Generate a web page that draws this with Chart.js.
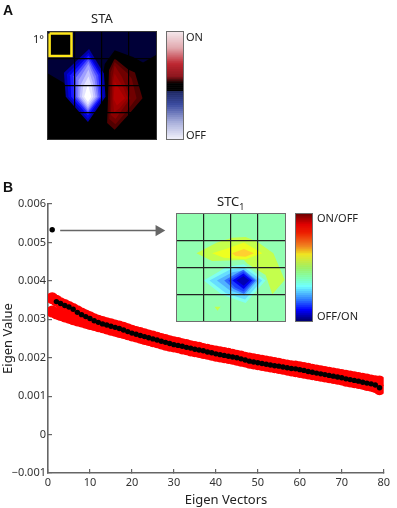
<!DOCTYPE html>
<html>
<head>
<meta charset="utf-8">
<title>STA and STC</title>
<script src="https://cdn.jsdelivr.net/npm/chart.js@4"></script>
<style>
  html, body { margin: 0; background: #fff; }
  #page { position: relative; width: 397px; height: 508px; overflow: hidden; }
  canvas { position: absolute; }
  .lbl { position: absolute; font: 13px "Noto Sans", sans-serif; color: #222; white-space: nowrap; line-height: 1; }
  .small { font-size: 11px; }
  .panel { font: bold 14px "Liberation Sans", sans-serif; color: #111; }
  .box { outline: 1.5px solid #6e6e6e; }
  .darkbox { outline: 1px solid #333; }
  sub { font-size: 9px; line-height: 0; }
</style>
</head>
<body>
<div id="page">
  <canvas id="mainChart" width="397" height="508" style="left:0;top:0"></canvas>
  <canvas id="staChart" class="darkbox" width="108" height="107" style="left:48px;top:32px"></canvas>
  <canvas id="staBar" class="box" width="16" height="107" style="left:167px;top:32px"></canvas>
  <canvas id="stcChart" class="box" width="108" height="107" style="left:177px;top:214px"></canvas>
  <canvas id="stcBar" class="box" width="16" height="107" style="left:296px;top:214px"></canvas>

  <div class="lbl panel" style="left:3px;top:2px">A</div>
  <div class="lbl panel" style="left:3px;top:179px">B</div>
  <div class="lbl" style="left:91px;top:12px">STA</div>
  <div class="lbl small" style="left:33px;top:33px">1&deg;</div>
  <div class="lbl small" style="left:186px;top:31px">ON</div>
  <div class="lbl small" style="left:186px;top:129px">OFF</div>
  <div class="lbl" style="left:217px;top:195px">STC<sub>1</sub></div>
  <div class="lbl small" style="left:317px;top:212px">ON/OFF</div>
  <div class="lbl small" style="left:317px;top:310px">OFF/ON</div>
</div>

<script>
// eigenvalue spectrum
const eigenIndex = Array.from({ length: 79 }, (_, i) => i + 1);

const eigenValues = [
  0.00533, 0.00346, 0.00341, 0.00336, 0.00332, 0.00326, 0.00318, 0.00312, 0.00307, 0.00302,
  0.00296, 0.00292, 0.00288, 0.00285, 0.00282, 0.00279, 0.00276, 0.00272, 0.00268, 0.00264,
  0.00261, 0.00258, 0.00255, 0.00252, 0.00249, 0.00246, 0.00243, 0.00240, 0.00237, 0.00234,
  0.00232, 0.00230, 0.00227, 0.00225, 0.00222, 0.00220, 0.00218, 0.00215, 0.00213, 0.00210,
  0.00208, 0.00206, 0.00204, 0.00202, 0.00200, 0.00197, 0.00194, 0.00191, 0.00189, 0.00187,
  0.00185, 0.00183, 0.00181, 0.00179, 0.00178, 0.00176, 0.00174, 0.00172, 0.00171, 0.00169,
  0.00167, 0.00164, 0.00162, 0.00160, 0.00158, 0.00156, 0.00154, 0.00152, 0.00150, 0.00148,
  0.00145, 0.00143, 0.00141, 0.00139, 0.00136, 0.00134, 0.00132, 0.00129, 0.00122
];

const shuffleUpper = [
  0.00355, 0.00348, 0.00342, 0.00337, 0.00332, 0.00327, 0.00321, 0.00315, 0.00310, 0.00305,
  0.00300, 0.00296, 0.00293, 0.00290, 0.00287, 0.00284, 0.00281, 0.00278, 0.00274, 0.00270,
  0.00267, 0.00264, 0.00261, 0.00258, 0.00255, 0.00252, 0.00249, 0.00246, 0.00243, 0.00240,
  0.00238, 0.00235, 0.00233, 0.00230, 0.00228, 0.00226, 0.00223, 0.00221, 0.00218, 0.00216,
  0.00214, 0.00212, 0.00210, 0.00208, 0.00205, 0.00203, 0.00200, 0.00198, 0.00196, 0.00194,
  0.00192, 0.00190, 0.00188, 0.00186, 0.00184, 0.00182, 0.00180, 0.00178, 0.00177, 0.00175,
  0.00173, 0.00171, 0.00169, 0.00167, 0.00165, 0.00163, 0.00161, 0.00159, 0.00157, 0.00155,
  0.00153, 0.00151, 0.00149, 0.00147, 0.00145, 0.00143, 0.00141, 0.00139, 0.00138
];

const shuffleLower = [
  0.00320, 0.00315, 0.00311, 0.00307, 0.00304, 0.00300, 0.00297, 0.00294, 0.00291, 0.00288,
  0.00285, 0.00282, 0.00279, 0.00276, 0.00273, 0.00270, 0.00267, 0.00264, 0.00261, 0.00258,
  0.00255, 0.00252, 0.00249, 0.00246, 0.00243, 0.00240, 0.00237, 0.00234, 0.00231, 0.00229,
  0.00227, 0.00224, 0.00222, 0.00219, 0.00217, 0.00215, 0.00212, 0.00210, 0.00208, 0.00205,
  0.00203, 0.00201, 0.00199, 0.00197, 0.00195, 0.00192, 0.00190, 0.00187, 0.00185, 0.00183,
  0.00181, 0.00179, 0.00177, 0.00175, 0.00173, 0.00171, 0.00169, 0.00167, 0.00165, 0.00163,
  0.00161, 0.00159, 0.00157, 0.00155, 0.00153, 0.00151, 0.00149, 0.00147, 0.00145, 0.00143,
  0.00140, 0.00138, 0.00136, 0.00134, 0.00132, 0.00129, 0.00127, 0.00124, 0.00118
];

const xTicks = [0, 10, 20, 30, 40, 50, 60, 70, 80];
const yTicks = [-0.001, 0, 0.001, 0.002, 0.003, 0.004, 0.005, 0.006];
const yTickLabels = ['\u22120.001', '0', '0.001', '0.002', '0.003', '0.004', '0.005', '0.006'];

const arrowX = [2.9, 26.4];
const arrowY = [0.00531, 0.00531];

// contour levels of the two receptive field maps, in grid cells from the top left
const gridLines = [1, 2, 3];

const staContours = [
  ['#000038', [[0,0],[4,0],[4,.86],[3.52,1.14],[3.15,.93],[2.47,.68],[2.1,1.2],[1.9,2.4],[1,2.4],[.58,1.9],[0,1.55]]],
  ['#0000a8', [[1.52,.64],[2.07,1.55],[2.13,2.42],[1.48,3.36],[.66,2.42],[.59,1.52]]],
  ['#0000e0', [[1.5,.78],[2,1.58],[2.06,2.42],[1.48,3.25],[.76,2.42],[.7,1.58]]],
  ['#1a1aff', [[1.5,.88],[1.94,1.6],[2,2.42],[1.48,3.12],[.86,2.42],[.82,1.62]]],
  ['#4a4aff', [[1.5,.98],[1.86,1.62],[1.94,2.42],[1.48,3.02],[.96,2.42],[.94,1.65]]],
  ['#7878ff', [[1.5,1.08],[1.78,1.65],[1.88,2.42],[1.48,2.95],[1.05,2.42],[1.04,1.7]]],
  ['#a0a0ff', [[1.5,1.2],[1.72,1.75],[1.82,2.42],[1.48,2.88],[1.12,2.42],[1.13,1.8]]],
  ['#c4c4ff', [[1.5,1.4],[1.66,1.9],[1.76,2.42],[1.48,2.8],[1.18,2.42],[1.22,1.95]]],
  ['#e4e4ff', [[1.5,1.65],[1.62,2.05],[1.68,2.42],[1.48,2.72],[1.26,2.42],[1.3,2.05]]],
  ['#ffffff', [[1.48,1.95],[1.6,2.42],[1.48,2.62],[1.34,2.42]]],
  ['#500000', [[2.47,.99],[2.97,1.4],[3.22,1.51],[3.5,2.48],[2.97,3.1],[2.47,3.65],[2.19,3.4],[2.26,1.42]]],
  ['#700000', [[2.47,1.12],[2.95,1.55],[3.1,1.75],[3.28,2.48],[2.92,2.95],[2.5,3.45],[2.27,3.25],[2.32,1.5]]],
  ['#8c0000', [[2.47,1.25],[2.75,1.7],[2.95,2.2],[3.05,2.48],[2.75,2.9],[2.5,3.25],[2.33,3.1],[2.38,1.7]]],
  ['#a00000', [[2.47,1.55],[2.8,2.1],[2.95,2.48],[2.65,2.85],[2.45,3],[2.4,2.5],[2.4,1.9]]],
  ['#b40000', [[2.47,1.85],[2.85,2.48],[2.55,2.75],[2.43,2.5]]]
];

const staMarker = [[.06,.06],[.87,.06],[.87,.9],[.06,.9],[.06,.06]];

const stcContours = [
  ['#c4ff4c', [[.72,1.47],[1.48,1.07],[2.04,.89],[2.54,.86],[2.97,1.04],[3.57,1.47],[3.99,2.47],[3.53,3],[3.28,2.28],[2.6,1.85],[2.48,1.72],[1.3,1.76]]],
  ['#c4ff4c', [[1.39,3.47],[1.61,3.47],[1.5,3.62]]],
  ['#eeff20', [[1.3,1.47],[1.86,1.29],[2.48,1.07],[3.16,1.47],[2.54,1.69],[1.73,1.64]]],
  ['#ffd030', [[2.04,1.47],[2.48,1.31],[2.85,1.47],[2.54,1.6],[2.17,1.57]]],
  ['#80fff0', [[.99,2.49],[1.86,1.97],[2.48,1.88],[3.28,2.49],[2.54,3.33],[1.67,3.02]]],
  ['#66ddff', [[1.2,2.49],[1.95,2.08],[2.48,2],[3.15,2.49],[2.52,3.2],[1.8,2.95]]],
  ['#50b0ff', [[1.48,2.49],[2.05,2.18],[2.48,2.1],[3,2.49],[2.5,3.05],[1.95,2.85]]],
  ['#2f6cff', [[1.75,2.49],[2.2,2.22],[2.46,2.08],[2.92,2.49],[2.48,2.98],[2.1,2.8]]],
  ['#1a40ff', [[1.9,2.49],[2.46,2.15],[2.85,2.49],[2.47,2.9],[2.15,2.75]]],
  ['#0000f0', [[2.05,2.49],[2.46,2.22],[2.78,2.49],[2.47,2.8]]],
  ['#0000b0', [[2.2,2.49],[2.46,2.32],[2.68,2.49],[2.47,2.68]]]
];

// colour bars, [fraction from the top, rgb]
const staBarStops = [
  [0, [244,232,236]], [.15, [226,170,176]], [.3, [190,40,50]], [.42, [140,20,28]], [.47, [30,0,0]],
  [.48, [0,0,0]], [.55, [0,0,0]], [.56, [30,40,100]], [.68, [60,76,160]], [.85, [170,176,220]], [1, [240,240,250]]
];
const stcBarStops = [
  [0, [106,0,0]], [.1, [224,0,0]], [.18, [238,32,0]], [.3, [240,128,32]], [.38, [240,228,32]],
  [.5, [160,240,96]], [.6, [128,255,176]], [.68, [112,255,255]], [.8, [48,128,255]], [.9, [0,0,255]], [1, [0,0,106]]
];
const barLevels = 54;

Chart.defaults.animation = false;
Chart.defaults.responsive = false;
Chart.defaults.font.family = '"Noto Sans", sans-serif';
Chart.defaults.color = '#333';
Chart.defaults.plugins.legend.display = false;
Chart.defaults.plugins.tooltip.enabled = false;

function pairs(xs, ys) {
  return xs.map((x, i) => ({ x: x, y: ys[i] }));
}

function createMainChart() {
  new Chart(document.getElementById('mainChart'), {
    type: 'scatter',
    data: {
      // first dataset is painted last
      datasets: [
        { data: pairs(eigenIndex, eigenValues), backgroundColor: '#000', pointRadius: 2.7, borderWidth: 0 },
        { data: pairs(eigenIndex, shuffleUpper), backgroundColor: '#ff0000', pointRadius: 6, borderWidth: 0 },
        { data: pairs(eigenIndex, shuffleLower), backgroundColor: '#ff0000', pointRadius: 6, borderWidth: 0 },
        {
          data: pairs(arrowX, arrowY), showLine: true, borderColor: '#666', borderWidth: 1.6,
          backgroundColor: '#666', pointStyle: 'triangle', rotation: 90, pointBorderWidth: 0, pointRadius: [0, 6.5]
        }
      ]
    },
    options: {
      layout: { padding: { top: 204, right: 8 } },
      scales: {
        x: {
          type: 'linear', min: 0, max: 80,
          afterBuildTicks: s => { s.ticks = xTicks.map(v => ({ value: v })); },
          afterFit: s => { s.height = 35; },
          grid: { drawOnChartArea: false, tickLength: -4, color: '#666', lineWidth: 1.2 },
          border: { color: '#666', width: 1.6 },
          ticks: { padding: 7, maxRotation: 0, font: { size: 11 } },
          // the label sits right of the axis centre in the figure, hence the leading spaces
          title: { display: true, text: '\u00a0\u00a0\u00a0\u00a0\u00a0\u00a0Eigen Vectors', font: { size: 13 }, color: '#222', padding: 0 }
        },
        y: {
          min: -0.001, max: 0.006,
          afterBuildTicks: s => { s.ticks = yTicks.map(v => ({ value: v })); },
          afterFit: s => { s.width = 48; },
          grid: { drawOnChartArea: false, tickLength: -4, color: '#666', lineWidth: 1.2 },
          border: { color: '#666', width: 1.6 },
          ticks: { padding: 6, font: { size: 11 }, callback: (v, i) => yTickLabels[i] },
          title: { display: true, text: 'Eigen Value', font: { size: 13 }, color: '#222', padding: 0 }
        }
      }
    }
  });
}

// fills each dataset as a closed polygon, using the points the scales placed
const polygonFill = {
  id: 'polygonFill',
  beforeDatasetDraw(chart, args) {
    const points = args.meta.data;
    const ctx = chart.ctx;
    ctx.save();
    ctx.beginPath();
    points.forEach((p, i) => (i ? ctx.lineTo(p.x, p.y) : ctx.moveTo(p.x, p.y)));
    ctx.closePath();
    ctx.fillStyle = args.meta.controller.getDataset().backgroundColor;
    ctx.fill();
    ctx.restore();
  }
};

const mapBackground = {
  id: 'mapBackground',
  beforeDraw(chart, args, opts) {
    const a = chart.chartArea;
    chart.ctx.fillStyle = opts.color;
    chart.ctx.fillRect(a.left, a.top, a.width, a.height);
  }
};

function createMap(id, contours, background, gridColor, extra) {
  const datasets = contours.map(c => ({
    data: c[1].map(p => ({ x: p[0], y: p[1] })),
    showLine: true, backgroundColor: c[0], borderWidth: 0, pointRadius: 0
  }));
  const axis = reverse => ({
    type: 'linear', min: 0, max: 4, reverse: reverse,
    afterBuildTicks: s => { s.ticks = gridLines.map(v => ({ value: v })); },
    grid: { z: 1, color: gridColor, lineWidth: 1.2, drawTicks: false },
    border: { display: false },
    ticks: { display: false, padding: 0 }
  });
  new Chart(document.getElementById(id), {
    type: 'scatter',
    data: { datasets: (extra || []).concat(datasets.reverse()) },
    options: {
      scales: { x: axis(false), y: axis(true) },
      plugins: { mapBackground: { color: background } }
    },
    plugins: [mapBackground, polygonFill]
  });
}

function barColor(stops, t) {
  let k = 0;
  while (k < stops.length - 2 && t > stops[k + 1][0]) k++;
  const a = stops[k], b = stops[k + 1];
  const f = (t - a[0]) / (b[0] - a[0]);
  const rgb = a[1].map((v, i) => Math.round(v + (b[1][i] - v) * f));
  return 'rgb(' + rgb.join(',') + ')';
}

// colour bar as one stacked bar with a segment per colour level
function createColorBar(id, stops) {
  const levels = Array.from({ length: barLevels }, (_, i) => i);
  new Chart(document.getElementById(id), {
    type: 'bar',
    data: {
      labels: ['level'],
      datasets: levels.map(i => ({
        data: [1],
        backgroundColor: barColor(stops, 1 - (i + 0.5) / barLevels),
        barPercentage: 1, categoryPercentage: 1
      }))
    },
    options: {
      scales: {
        x: { stacked: true, display: false },
        y: { stacked: true, display: false, min: 0, max: barLevels }
      }
    }
  });
}

window.onload = () => {
  createMainChart();
  createMap('staChart', staContours, '#000', '#000', [{
    data: staMarker.map(p => ({ x: p[0], y: p[1] })),
    showLine: true, backgroundColor: '#000', borderColor: '#ffe81a', borderWidth: 2.5, pointRadius: 0
  }]);
  createColorBar('staBar', staBarStops);
  createMap('stcChart', stcContours, '#92ffb2', '#222');
  createColorBar('stcBar', stcBarStops);
};
</script>
</body>
</html>
